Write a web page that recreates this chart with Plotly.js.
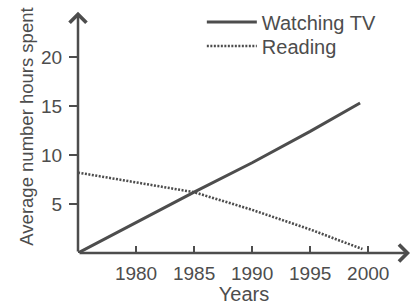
<!DOCTYPE html>
<html>
<head>
<meta charset="utf-8">
<script src="https://cdn.plot.ly/plotly-3.0.1.min.js"></script>
<style>html,body{margin:0;padding:0;background:#fff;}#chart{width:410px;height:305px;}</style>
</head>
<body>
<div id="chart"></div>
<script>
const tvYears = [1975, 1980, 1985, 1990, 1995, 1999.3];
const tvHours = [0, 3.1, 6.2, 9.2, 12.4, 15.3];
const readYears = [1975, 1980, 1985, 1990, 1995, 1999.5];
const readHours = [8.2, 7.2, 6.2, 4.4, 2.4, 0.4];
const xTicks = [1980, 1985, 1990, 1995, 2000];
const yTicks = [5, 10, 15, 20];
const xStart = 1975, xEnd = 2003.6, yArrow = 24.6, yTop = 25.8;

const ink = '#4d4d4d';
const font = 'Liberation Sans, Arial, sans-serif';
const legendFont = {family: font, size: 20, color: ink};

const data = [
  {x: tvYears, y: tvHours, name: 'Watching TV', mode: 'lines', legend: 'legend',
   line: {color: ink, width: 3}},
  {x: readYears, y: readHours, name: 'Reading', mode: 'lines', legend: 'legend2',
   line: {color: ink, width: 2.6, dash: '2px,1.5px'}}
];

const layout = {
  width: 410, height: 305,
  margin: {l: 78, r: 0, t: 0, b: 52},
  paper_bgcolor: '#fff', plot_bgcolor: '#fff',
  showlegend: true,
  legend: {x: 0.373, y: 0.913, xanchor: 'left', yanchor: 'middle', itemwidth: 50,
           font: legendFont, bgcolor: 'rgba(0,0,0,0)'},
  legend2: {x: 0.373, y: 0.818, xanchor: 'left', yanchor: 'middle', itemwidth: 50,
           font: legendFont, bgcolor: 'rgba(0,0,0,0)'},
  xaxis: {range: [xStart, xEnd], tickvals: xTicks, ticktext: xTicks.map(String),
          showgrid: false, zeroline: false, showline: false,
          ticks: 'inside', ticklen: 7, tickwidth: 2, tickcolor: ink, ticklabelstandoff: 7,
          tickfont: {family: font, size: 19, color: ink},
          title: {text: 'Years', font: {family: font, size: 20, color: ink}, standoff: 10}},
  yaxis: {range: [0, yTop], tickvals: yTicks, ticktext: yTicks.map(String),
          showgrid: false, zeroline: false, showline: false,
          ticks: 'outside', ticklen: 8, tickwidth: 2, tickcolor: ink, ticklabelstandoff: 3,
          tickfont: {family: font, size: 19, color: ink},
          title: {text: 'Average number hours spent', font: {family: font, size: 18.5, color: ink}, standoff: 2}},
  annotations: [
    {x: xEnd, y: 0, ax: xStart, ay: 0, xref: 'x', yref: 'y', axref: 'x', ayref: 'y',
     text: '', showarrow: true, arrowhead: 4, arrowsize: 1.3, arrowwidth: 2.5, arrowcolor: ink},
    {x: xStart, y: yArrow, ax: xStart, ay: 0, xref: 'x', yref: 'y', axref: 'x', ayref: 'y',
     text: '', showarrow: true, arrowhead: 4, arrowsize: 1.3, arrowwidth: 2.5, arrowcolor: ink}
  ]
};

Plotly.newPlot('chart', data, layout, {displayModeBar: false, staticPlot: true});
</script>
</body>
</html>
